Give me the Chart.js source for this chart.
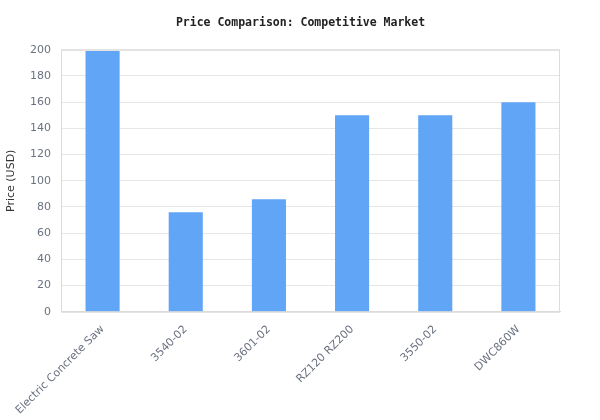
<!DOCTYPE html>
<html>
<head>
<meta charset="utf-8">
<script src="https://cdn.jsdelivr.net/npm/chart.js@4/dist/chart.umd.min.js"></script>
<style>
  html, body { margin: 0; padding: 0; background: #fff; }
  #wrap { width: 600px; height: 420px; }
</style>
</head>
<body>
<div id="wrap"><canvas id="price-chart"></canvas></div>
<script>
// chart data
const products = ["Electric Concrete Saw", "3540-02", "3601-02", "RZ120 RZ200", "3550-02", "DWC860W"];
const prices = [199, 76, 86, 150, 150, 160];
const yTicks = { min: 0, max: 200, step: 20 };

const sans = "'DejaVu Sans', Verdana, sans-serif";

// outline round the plot area
const frame = {
  id: 'frame',
  afterDraw(chart) {
    const a = chart.chartArea;
    const c = chart.ctx;
    c.save();
    c.strokeStyle = '#dcdcdc';
    c.lineWidth = 1;
    c.strokeRect(a.left + 0.5, a.top + 0.5, a.right - a.left - 1, a.bottom - a.top);
    c.restore();
  }
};

new Chart(document.getElementById("price-chart"), {
  type: 'bar',
  data: {
    labels: products,
    datasets: [
      {
        label: "Price (USD)",
        backgroundColor: "#60a5f6",
        data: prices,
        barPercentage: 0.5,
        categoryPercentage: 0.82
      }
    ]
  },
  options: {
    responsive: true,
    maintainAspectRatio: false,
    animation: false,
    layout: { padding: { top: 0, right: 0, left: 1, bottom: 0 } },
    plugins: {
      legend: { display: false },
      title: {
        display: true,
        text: 'Price Comparison: Competitive Market',
        color: '#222',
        font: { family: "'DejaVu Sans Mono', monospace", size: 11.5, weight: 'bold' },
        padding: { top: 16, bottom: 20 }
      },
      tooltip: { enabled: false }
    },
    scales: {
      x: {
        grid: { display: false },
        border: { color: '#dcdcdc' },
        ticks: {
          color: '#6b7280',
          font: { family: sans, size: 11 },
          minRotation: 45,
          maxRotation: 45,
          padding: 3
        }
      },
      y: {
        min: yTicks.min,
        max: yTicks.max,
        grid: { color: '#e6e6e6', drawTicks: false },
        border: { color: '#dcdcdc' },
        ticks: {
          stepSize: yTicks.step,
          color: '#6b7280',
          font: { family: sans, size: 11 },
          padding: 10
        },
        title: {
          display: true,
          text: 'Price (USD)',
          color: '#333',
          font: { family: sans, size: 11 }
        },
        afterFit(scale) { scale.width = 60; }
      },
      yRight: {
        position: 'right',
        display: true,
        grid: { display: false },
        border: { display: false },
        ticks: { display: false },
        afterFit(scale) { scale.width = 40; }
      }
    }
  },
  plugins: [frame]
});
</script>
</body>
</html>
